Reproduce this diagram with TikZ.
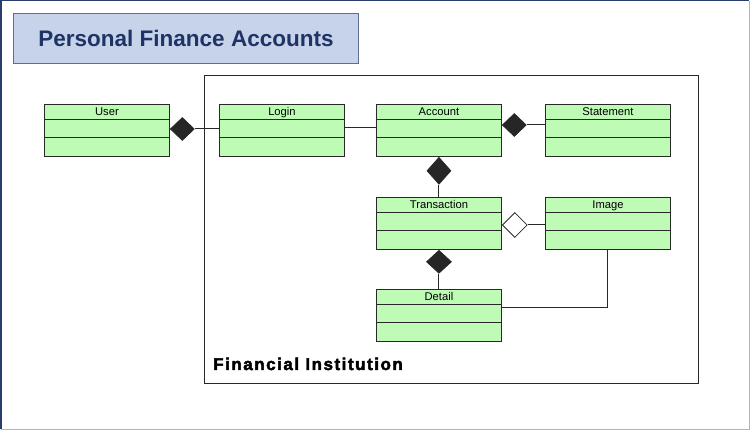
\documentclass[tikz,border=0pt]{standalone}
\usepackage{fontspec}
\setmainfont{Liberation Sans}
\newfontfamily\heavyfont[LetterSpace=9,FakeBold=2.6]{Liberation Sans Bold}
\usetikzlibrary{calc,shapes.geometric}

\definecolor{classfill}{RGB}{190,252,182}
\definecolor{classline}{RGB}{40,40,40}
\definecolor{titlefill}{RGB}{198,211,232}
\definecolor{titleline}{RGB}{92,110,150}
\definecolor{titletext}{RGB}{31,52,102}
\definecolor{framedark}{RGB}{40,60,110}
\definecolor{framelight}{RGB}{150,190,220}

\tikzset{
  umlbox/.style={draw=classline, fill=classfill, line width=0.9pt,
    minimum width=125pt, minimum height=52pt, inner sep=0pt, anchor=north west},
  classname/.style={font=\fontsize{11.2}{12}\selectfont, anchor=base, inner sep=0pt},
  divider/.style={draw=classline, line width=0.9pt},
  link/.style={draw=classline, line width=1pt},
  compo/.style={shape=diamond, draw=classline, fill=black!85, line width=0.8pt,
    inner sep=0pt, minimum width=24pt, minimum height=23pt},
  aggr/.style={shape=diamond, draw=classline, fill=white, line width=0.8pt,
    inner sep=0pt, minimum width=25pt, minimum height=25pt},
}

% one UML class: name, x, y (top left), title
\newcommand\umlclass[4]{%
  \node[umlbox] (#1) at (#2,#3) {};
  \node[classname] (#1-title) at ($(#1.north)+(0,12)$) {#4};
  \draw[divider] ($(#1.north west)+(0,15)$) -- ($(#1.north east)+(0,15)$);
  \draw[divider] ($(#1.north west)+(0,33.5)$) -- ($(#1.north east)+(0,33.5)$);
}

\begin{document}
\begin{tikzpicture}[x=1pt,y=-1pt]
  \useasboundingbox (0,0) rectangle (750,430);
  \fill[white] (0,0) rectangle (750,430);
  % outer frame
  \draw[framelight, line width=1.5pt] (0.75,429.25) -- (749.25,429.25) -- (749.25,0.75);
  \draw[framedark, line width=1.5pt] (0.75,429.25) -- (0.75,0.75) -- (749.25,0.75);

  % title banner
  \node[draw=titleline, fill=titlefill, line width=1pt, minimum width=345pt,
        minimum height=50pt, anchor=north west, inner sep=0pt] (banner) at (13,13) {};
  \node[text=titletext, font=\fontsize{22.5}{24}\selectfont\bfseries] (bannertext)
        at (banner.center) {Personal Finance Accounts};

  % institution boundary
  \node[draw=classline, line width=1.4pt, minimum width=494pt, minimum height=308pt,
        anchor=north west, inner sep=0pt] (inst) at (204,75) {};
  \node[anchor=base west, inner sep=0pt, font=\heavyfont\fontsize{17}{18}\selectfont]
        (instlabel) at (213,370) {Financial Institution};

  % classes
  \umlclass{user}{44}{104}{User}
  \umlclass{login}{219}{104}{Login}
  \umlclass{account}{376}{104}{Account}
  \umlclass{statement}{545}{104}{Statement}
  \umlclass{transaction}{376}{197}{Transaction}
  \umlclass{image}{545}{197}{Image}
  \umlclass{detail}{376}{289}{Detail}

  % User -- Login (composition)
  \node[compo, anchor=west] (d-user) at ($(user.north east)+(0,25)$) {};
  \draw[link] (d-user.east) -- (d-user.east -| login.west);

  % Login -- Account
  \coordinate (la) at ($(login.north east)+(0,24)$);
  \draw[link] (la) -- (la -| account.west);

  % Account -- Statement (composition)
  \node[compo, anchor=west] (d-stmt) at ($(account.north east)+(0,21)$) {};
  \draw[link] (d-stmt.east) -- (d-stmt.east -| statement.west);

  % Account -- Transaction (composition)
  \node[compo, anchor=north, minimum width=24pt, minimum height=27pt] (d-acct) at (account.south) {};
  \draw[link] (d-acct.south) -- (transaction.north);

  % Transaction -- Image (aggregation)
  \node[aggr, anchor=west] (d-img) at ($(transaction.north east)+(0,28)$) {};
  \draw[link] (d-img.east) -- (d-img.east -| image.west);

  % Transaction -- Detail (composition)
  \node[compo, anchor=north, minimum width=25pt, minimum height=23pt] (d-trans) at (transaction.south) {};
  \draw[link] (d-trans.south) -- (detail.north);

  % Image -- Detail
  \draw[link] (image.south) |- ($(detail.north east)+(0,19)$);
\end{tikzpicture}
\end{document}
